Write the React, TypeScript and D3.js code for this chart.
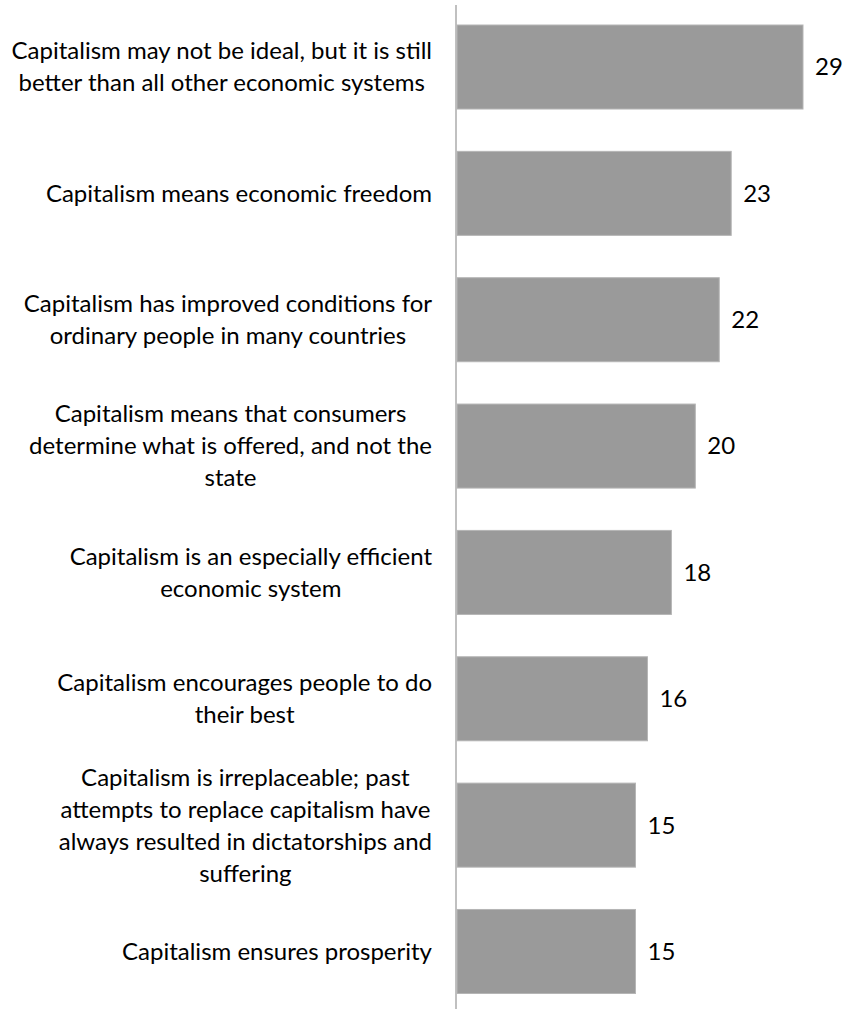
import React, { useEffect, useRef } from "react";
import * as d3 from "d3";

const categories: string[][] = [
  ["Capitalism may not be ideal, but it is still", "better than all other economic systems"],
  ["Capitalism means economic freedom"],
  ["Capitalism has improved conditions for", "ordinary people in many countries"],
  ["Capitalism means that consumers", "determine what is offered, and not the", "state"],
  ["Capitalism is an especially efficient", "economic system"],
  ["Capitalism encourages people to do", "their best"],
  ["Capitalism is irreplaceable; past", "attempts to replace capitalism have", "always resulted in dictatorships and", "suffering"],
  ["Capitalism ensures prosperity"],
];
const values: number[] = [29, 23, 22, 20, 18, 16, 15, 15];

const W = 844;
const H = 1009;
const AXIS_X = 456;
const FONT = "Lato, 'Open Sans', sans-serif";
const FONT_SIZE = 24;
const LINE_H = 32;

export default function App() {
  const ref = useRef<SVGSVGElement | null>(null);
  useEffect(() => {
    const svg = d3.select(ref.current);
    svg.selectAll("*").remove();
    const ids = categories.map((_, i) => String(i));
    const y = d3.scaleBand<string>().domain(ids).range([25, 993.5]).paddingInner(0.335).paddingOuter(0);
    const x = d3.scaleLinear().domain([0, 29]).range([AXIS_X, 803]);

    svg.append("line")
      .attr("x1", AXIS_X).attr("x2", AXIS_X)
      .attr("y1", 5).attr("y2", H)
      .attr("stroke", "#c0c0c0").attr("stroke-width", 2);

    const g = svg.append("g");
    ids.forEach((id, i) => {
      const y0 = y(id)!;
      const bw = y.bandwidth();
      g.append("rect")
        .attr("x", x(0) + 1).attr("y", y0)
        .attr("width", x(values[i]) - x(0) - 1).attr("height", bw)
        .attr("fill", "#9a9a9a").attr("stroke", "#b5b5b5").attr("stroke-width", 1);
      g.append("text")
        .attr("x", x(values[i]) + 12).attr("y", y0 + bw / 2)
        .attr("dy", "0.35em")
        .attr("font-family", FONT).attr("font-size", FONT_SIZE).attr("fill", "#000")
        .text(String(values[i]));

      const lines = categories[i];
      const cy = y0 + bw / 2;
      const tg = g.append("g");
      const texts = lines.map((ln, k) =>
        tg.append("text")
          .attr("y", cy + (k - (lines.length - 1) / 2) * LINE_H)
          .attr("dy", "0.35em")
          .attr("font-family", FONT).attr("font-size", FONT_SIZE).attr("fill", "#000")
          .attr("text-anchor", "middle")
          .text(ln)
      );
      const widths = texts.map((t) => (t.node() as SVGTextElement).getComputedTextLength());
      const maxW = Math.max(...widths);
      const right = 432;
      const center = right - maxW / 2;
      texts.forEach((t) => t.attr("x", center));
    });
  }, []);
  return (
    <svg ref={ref} width={W} height={H} style={{ position: "absolute", left: 0, top: 0, background: "#fff" }} />
  );
}
